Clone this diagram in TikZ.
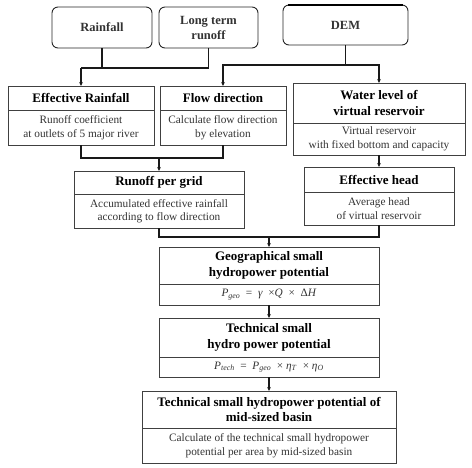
\documentclass[tikz,border=0pt]{standalone}
\usepackage{fontspec}
\setmainfont{Liberation Serif}
\usetikzlibrary{arrows.meta}
\newcommand{\mi}[1]{\textit{#1}}
\begin{document}
\begin{tikzpicture}[x=1pt,y=-1pt,
  every node/.style={inner sep=0pt, outer sep=0pt, align=center},
  src/.style={draw=black!85, line width=0.9pt, rounded corners=6pt, font=\fontsize{12.5}{15}\selectfont\bfseries, text=black!80},
  ttl/.style={draw=black!75, line width=0.8pt, font=\fontsize{13}{15.5}\selectfont\bfseries, text=black},
  bdy/.style={draw=black!75, line width=0.8pt, font=\fontsize{11.3}{13.5}\selectfont, text=black!80},
  con/.style={line width=1.1pt, draw=black!90},
  arr/.style={con, -{Stealth[length=4pt,width=3.6pt]}}]
\useasboundingbox (0,0) rectangle (472,467);
% sources
\node[src, minimum width=100pt, minimum height=41pt] (rain) at (102,27.5) {Rainfall};
\node[src, minimum width=99pt, minimum height=41pt] (ltr) at (208.5,27.5) {Long term\\runoff};
\node[src, minimum width=125pt, minimum height=40pt] (dem) at (345.5,25) {DEM};
\draw[line width=2pt, black] ([xshift=5pt]dem.north west) -- ([xshift=-5pt]dem.north east);
% effective rainfall
\node[ttl, minimum width=146pt, minimum height=24pt] (er-t) at (81,98) {Effective Rainfall};
\node[bdy, minimum width=146pt, minimum height=35pt] (er-b) at (81,127.5) {Runoff coefficient\\at outlets of 5 major river};
% flow direction
\node[ttl, minimum width=126pt, minimum height=24pt] (fd-t) at (223,98) {Flow direction};
\node[bdy, minimum width=126pt, minimum height=35pt] (fd-b) at (223,127.5) {Calculate flow direction\\by elevation};
% water level
\node[ttl, minimum width=172pt, minimum height=40pt] (wl-t) at (379,103) {Water level of\\virtual reservoir};
\node[bdy, minimum width=172pt, minimum height=32pt] (wl-b) at (379,139) {Virtual reservoir\\with fixed bottom and capacity};
% runoff per grid
\node[ttl, minimum width=170pt, minimum height=23pt] (rg-t) at (159,182.5) {Runoff per grid};
\node[bdy, minimum width=170pt, minimum height=34pt] (rg-b) at (159,211) {Accumulated effective rainfall\\according to flow direction};
% effective head
\node[ttl, minimum width=150pt, minimum height=25pt] (eh-t) at (379,179.5) {Effective head};
\node[bdy, minimum width=150pt, minimum height=33pt] (eh-b) at (379,208.5) {Average head\\of virtual reservoir};
% geographical
\node[ttl, minimum width=220pt, minimum height=37pt] (geo-t) at (269,265.5) {Geographical small\\hydropower potential};
\node[bdy, minimum width=220pt, minimum height=21pt] (geo-b) at (269,294.5) {\mi{P}\textsubscript{\mi{geo}} \ = \ \mi{γ} \ ×\mi{Q} \ × \ Δ\mi{H}};
% technical
\node[ttl, minimum width=220pt, minimum height=39pt] (tech-t) at (269,337.5) {Technical small\\hydro power potential};
\node[bdy, minimum width=220pt, minimum height=20pt] (tech-b) at (269,367) {\mi{P}\textsubscript{\mi{tech}} \ = \ \mi{P}\textsubscript{\mi{geo}} \ × \mi{η}\textsubscript{\mi{T}} \ × \mi{η}\textsubscript{\mi{O}}};
% final
\node[ttl, minimum width=254pt, minimum height=37pt] (fin-t) at (269,409.5) {Technical small hydropower potential of\\mid-sized basin};
\node[bdy, minimum width=254pt, minimum height=35pt] (fin-b) at (269,445.5) {Calculate of the technical small hydropower\\potential per area by mid-sized basin};
% junctions
\coordinate (j1) at (81,68);
\coordinate (j2) at (345.5,65);
\coordinate (j3) at (159,158);
\coordinate (j4) at (269,237);
% connectors
\draw[con] (rain.south) |- (j1);
\draw[con] (ltr.south) |- (j1);
\draw[arr] (j1) -- (er-t.north);
\draw[con] (dem.south) -- (j2);
\draw[arr] (j2) -| (fd-t.north);
\draw[arr] (j2) -| (wl-t.north);
\draw[con] (er-b.south) |- (j3);
\draw[con] (fd-b.south) |- (j3);
\draw[arr] (j3) -- (rg-t.north);
\draw[arr] (wl-b.south) -- (eh-t.north);
\draw[con] (rg-b.south) |- (j4);
\draw[con] (eh-b.south) |- (j4);
\draw[arr] (j4) -- (geo-t.north);
\draw[arr] (geo-b.south) -- (tech-t.north);
\draw[arr] (tech-b.south) -- (fin-t.north);
\end{tikzpicture}
\end{document}
